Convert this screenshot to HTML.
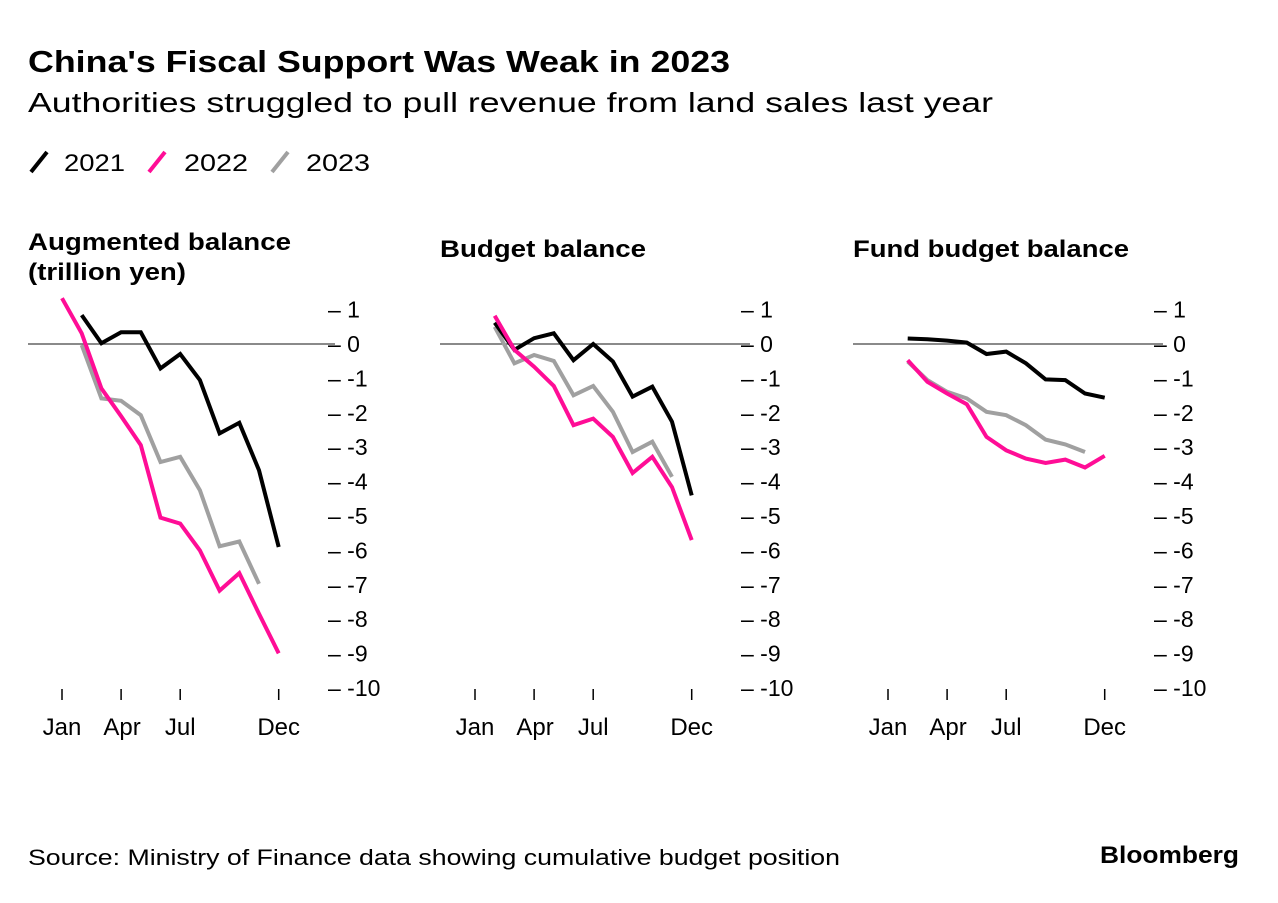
<!DOCTYPE html>
<html><head><meta charset="utf-8"><style>
html,body{margin:0;padding:0;background:#fff;}
body{width:1278px;height:898px;overflow:hidden;font-family:"Liberation Sans",Arial,sans-serif;}
svg text{font-family:"Liberation Sans",Arial,sans-serif;}
</style></head><body>
<svg id="chart" width="1278" height="898" viewBox="0 0 1278 898" xmlns="http://www.w3.org/2000/svg">
<text x="28" y="72" font-size="31" font-weight="bold" fill="#000" textLength="702" lengthAdjust="spacingAndGlyphs">China's Fiscal Support Was Weak in 2023</text>
<text x="28" y="112" font-size="28" fill="#000" textLength="965" lengthAdjust="spacingAndGlyphs">Authorities struggled to pull revenue from land sales last year</text>
<g>
<line x1="31" y1="172" x2="47" y2="152" stroke="#000" stroke-width="4"/>
<text x="64" y="171" font-size="24" textLength="61" lengthAdjust="spacingAndGlyphs">2021</text>
<line x1="149" y1="172" x2="165" y2="152" stroke="#ff0d96" stroke-width="4"/>
<text x="184" y="171" font-size="24" textLength="64" lengthAdjust="spacingAndGlyphs">2022</text>
<line x1="272" y1="172" x2="288" y2="152" stroke="#a0a0a0" stroke-width="4"/>
<text x="306" y="171" font-size="24" textLength="64" lengthAdjust="spacingAndGlyphs">2023</text>
</g>
<g id="panels"></g>
<text x="28" y="865" font-size="22" fill="#000" textLength="812" lengthAdjust="spacingAndGlyphs">Source: Ministry of Finance data showing cumulative budget position</text>
<text x="1100" y="863" font-size="24" font-weight="bold" fill="#000" textLength="139" lengthAdjust="spacingAndGlyphs">Bloomberg</text>
</svg>
<script>
// data (months 0=Jan .. 11=Dec), null = no data
const months = ["Jan","Feb","Mar","Apr","May","Jun","Jul","Aug","Sep","Oct","Nov","Dec"];
const xTickLabels = ["Jan","Apr","Jul","Dec"];
const yTicks = [1,0,-1,-2,-3,-4,-5,-6,-7,-8,-9,-10];
const panelTitles = [["Augmented balance","(trillion yen)"],["Budget balance"],["Fund budget balance"]];
const aug2021 = [null,0.84,0.02,0.34,0.34,-0.71,-0.29,-1.05,-2.6,-2.29,-3.67,-5.9];
const aug2022 = [1.33,0.31,-1.29,-2.1,-2.94,-5.05,-5.22,-6.0,-7.17,-6.66,-7.84,-8.99];
const aug2023 = [null,-0.03,-1.58,-1.65,-2.07,-3.43,-3.28,-4.25,-5.88,-5.74,-6.97,null];
const bud2021 = [null,0.62,-0.17,0.17,0.31,-0.47,0,-0.51,-1.53,-1.24,-2.26,-4.4];
const bud2022 = [null,0.82,-0.17,-0.66,-1.22,-2.36,-2.17,-2.7,-3.75,-3.28,-4.16,-5.7];
const bud2023 = [null,0.5,-0.56,-0.32,-0.49,-1.49,-1.22,-1.97,-3.14,-2.84,-3.86,null];
const fund2021 = [null,0.16,0.14,0.1,0.04,-0.29,-0.22,-0.56,-1.03,-1.05,-1.44,-1.56];
const fund2022 = [null,-0.47,-1.1,-1.44,-1.75,-2.7,-3.09,-3.33,-3.46,-3.36,-3.59,-3.25];
const fund2023 = [null,-0.51,-1.05,-1.39,-1.58,-1.97,-2.07,-2.36,-2.78,-2.92,-3.14,null];

const NS="http://www.w3.org/2000/svg";
const root=document.getElementById('panels');
const panels=[
 {jan:62,left:28,right:335,lab:328,series:[aug2021,aug2022,aug2023],name:'augmented-balance',tw:[263,158]},
 {jan:475,left:440,right:750,lab:741,series:[bud2021,bud2022,bud2023],name:'budget-balance',tw:[206]},
 {jan:888,left:853,right:1163,lab:1154,series:[fund2021,fund2022,fund2023],name:'fund-budget-balance',tw:[276]}
];
const colors=["#000","#ff0d96","#a0a0a0"];
const years=["2021","2022","2023"];
function yS(v){return 344-v*34.4;}
function mk(tag,attrs){const e=document.createElementNS(NS,tag);for(const k in attrs)e.setAttribute(k,attrs[k]);return e;}
panels.forEach((p,pi)=>{
 const g=mk('g',{});
 
 
 root.appendChild(g);
 const xS=m=>p.jan+m*19.7;
 panelTitles[pi].forEach((t,i)=>{
  const tx=mk('text',{x:p.left,y:(pi===0?250:257)+i*30,'font-size':24,'font-weight':'bold',textLength:p.tw[i],lengthAdjust:'spacingAndGlyphs'});
  
  
  tx.textContent=t;g.appendChild(tx);
 });
 const zl=mk('line',{x1:p.left,x2:p.right,y1:yS(0),y2:yS(0),stroke:'#444','stroke-width':1.2});
 
 
 g.appendChild(zl);
 yTicks.forEach(v=>{
  const t=mk('text',{x:p.lab,y:yS(v)+8,'font-size':23});
  
  
  t.textContent='– '+v;g.appendChild(t);
 });
 xTickLabels.forEach(l=>{
  const m=months.indexOf(l);
  const tk=mk('line',{x1:xS(m),x2:xS(m),y1:689,y2:700,stroke:'#000','stroke-width':1.5});
  
  
  g.appendChild(tk);
  const t=mk('text',{x:xS(m)+(l==='Apr'?1:0),y:735,'font-size':24,'text-anchor':'middle'});
  
  
  t.textContent=l;g.appendChild(t);
 });
 [2,0,1].forEach(si=>{
  const d=p.series[si];let pts=[];
  d.forEach((v,m)=>{if(v!==null)pts.push(xS(m).toFixed(1)+','+yS(v).toFixed(1));});
  const pl=mk('polyline',{points:pts.join(' '),fill:'none',stroke:colors[si],'stroke-width':4,'stroke-linejoin':'miter'});
  
  
  g.appendChild(pl);
 });
});
</script>
</body></html>
